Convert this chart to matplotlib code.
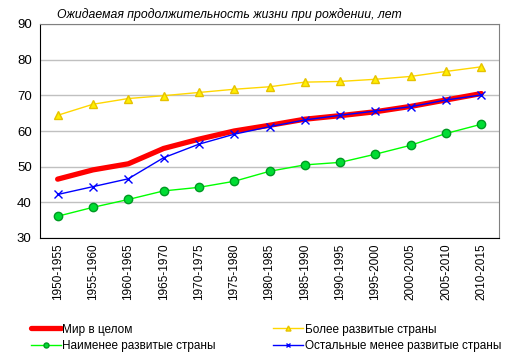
import matplotlib
matplotlib.use('Agg')
import matplotlib.pyplot as plt

plt.rcParams['font.family'] = ['Liberation Sans', 'DejaVu Sans']

periods = ['1950-1955', '1955-1960', '1960-1965', '1965-1970', '1970-1975',
           '1975-1980', '1980-1985', '1985-1990', '1990-1995', '1995-2000',
           '2000-2005', '2005-2010', '2010-2015']
world = [46.5, 49.1, 50.8, 55.1, 57.7, 60.0, 61.6, 63.3, 64.3, 65.4, 66.9, 68.7, 70.5]
developed = [64.4, 67.5, 69.1, 69.9, 70.8, 71.7, 72.4, 73.7, 73.9, 74.5, 75.3, 76.7, 78.0]
least = [36.1, 38.6, 40.8, 43.2, 44.2, 45.9, 48.7, 50.5, 51.2, 53.5, 56.0, 59.3, 61.9]
other = [42.2, 44.4, 46.6, 52.5, 56.3, 59.1, 61.2, 63.1, 64.4, 65.6, 66.8, 68.7, 70.1]

fig = plt.figure(figsize=(5.14, 3.6), dpi=100)
ax = fig.add_axes([40/514, 1 - 238/360, 459/514, 214/360])
x = range(len(periods))

l_world, = ax.plot(x, world, color='#ff0000', lw=3.8, solid_capstyle='round', label='Мир в целом', zorder=3)
l_dev, = ax.plot(x, developed, color='#ffd700', lw=1, marker='^', ms=6,
                 mfc='#ffee00', mec='#e6c200', label='Более развитые страны', zorder=2)
l_least, = ax.plot(x, least, color='#00ff00', lw=1, marker='o', ms=6,
                   mfc='#00dd33', mec='#009922', label='Наименее развитые страны', zorder=2)
l_other, = ax.plot(x, other, color='#0000ff', lw=1, marker='x', ms=6,
                   mew=1, label='Остальные менее развитые страны', zorder=4)

ax.set_xlim(-0.5, len(periods) - 0.5)
ax.set_ylim(30, 90)
ax.set_yticks(range(30, 91, 10))
ax.set_xticks(list(x))
ax.set_xticklabels(periods, rotation=90, fontsize=8.5)
ax.tick_params(axis='y', labelsize=9.5, length=0, pad=6)
ax.tick_params(axis='x', length=0, pad=4)
ax.grid(axis='y', color='#c0c0c0', lw=1)
ax.set_axisbelow(True)
for s in ['top', 'right']:
    ax.spines[s].set_color('#808080')
for s in ['left', 'bottom']:
    ax.spines[s].set_color('black')

fig.text(57/514, 1 - 15/360, 'Ожидаемая продолжительность жизни при рождении, лет',
         style='italic', fontsize=8.8, va='center')

fig.legend(handles=[l_world, l_least, l_dev, l_other], ncol=2, loc='upper left',
           bbox_to_anchor=(20/514, 1 - 313/360), frameon=False, fontsize=8.5,
           handlelength=2.6, handletextpad=0.1, columnspacing=4.8, labelspacing=0.35,
           markerscale=0.6)

fig.savefig('out.png', dpi=100, facecolor='white')
